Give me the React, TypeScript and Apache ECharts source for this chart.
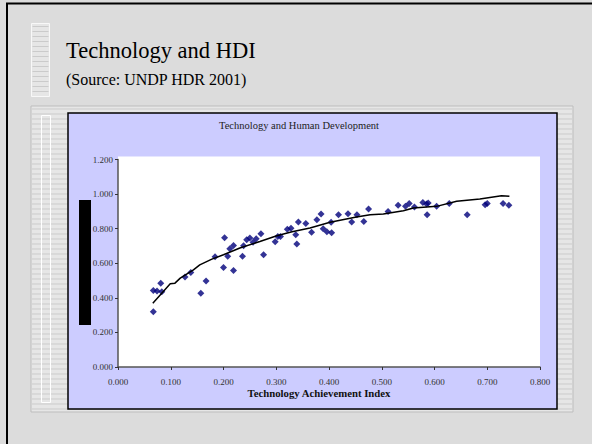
import React, { useEffect, useRef } from "react";
import * as echarts from "echarts";

// Technology Achievement Index (x) and Human Development Index (y)
const taiValues = [
  0.067, 0.067, 0.074, 0.083, 0.081, 0.127, 0.138, 0.157, 0.167, 0.184,
  0.200, 0.202, 0.208, 0.212, 0.219, 0.219, 0.236, 0.238, 0.244, 0.250,
  0.256, 0.262, 0.271, 0.276, 0.298, 0.303, 0.308, 0.321, 0.328, 0.337,
  0.339, 0.342, 0.356, 0.367, 0.377, 0.385, 0.389, 0.396, 0.405, 0.404,
  0.418, 0.436, 0.443, 0.453, 0.466, 0.475, 0.512, 0.531, 0.545, 0.552,
  0.562, 0.578, 0.585, 0.588, 0.586, 0.604, 0.628, 0.662, 0.696, 0.700,
  0.730, 0.741,
];
const hdiValues = [
  0.320, 0.442, 0.440, 0.435, 0.485, 0.520, 0.547, 0.427, 0.498, 0.637,
  0.576, 0.748, 0.640, 0.684, 0.702, 0.558, 0.640, 0.701, 0.736, 0.746,
  0.722, 0.741, 0.770, 0.649, 0.724, 0.755, 0.755, 0.796, 0.802, 0.765,
  0.711, 0.838, 0.830, 0.780, 0.851, 0.885, 0.800, 0.782, 0.777, 0.837,
  0.881, 0.886, 0.838, 0.881, 0.842, 0.914, 0.900, 0.935, 0.929, 0.945,
  0.926, 0.952, 0.942, 0.948, 0.881, 0.929, 0.945, 0.881, 0.939, 0.945,
  0.945, 0.935,
];

// Trend line as drawn in the picture
const trendX = [
  0.066, 0.080, 0.099, 0.108, 0.118, 0.143, 0.155, 0.178, 0.200, 0.231,
  0.269, 0.301, 0.330, 0.364, 0.402, 0.452, 0.478, 0.503, 0.541, 0.560,
  0.604, 0.642, 0.686, 0.727, 0.742,
];
const trendY = [
  0.369, 0.417, 0.481, 0.485, 0.514, 0.562, 0.591, 0.624, 0.649, 0.688,
  0.726, 0.759, 0.782, 0.804, 0.837, 0.867, 0.881, 0.885, 0.904, 0.920,
  0.929, 0.958, 0.971, 0.991, 0.987,
];

const xTicks = { min: 0, max: 0.8, interval: 0.1 };
const yTicks = { min: 0, max: 1.2, interval: 0.2 };

const chartTitle = "Technology and Human Development";
const slideTitle = "Technology and HDI";
const slideSubtitle = "(Source: UNDP HDR 2001)";
const xAxisTitle = "Technology Achievement Index";

const SERIF = "Liberation Serif";

function stripes(x: number, y: number, w: number, h: number, step: number, z: number) {
  const els: any[] = [];
  for (let yy = y + 3; yy < y + h - 1; yy += step) {
    els.push({
      type: "line",
      z,
      silent: true,
      shape: { x1: x + 1, y1: yy, x2: x + w - 1, y2: yy },
      style: { stroke: "#cbcbcb", lineWidth: 1 },
    });
  }
  return els;
}

export default function App() {
  const ref = useRef<HTMLDivElement>(null);

  useEffect(() => {
    if (!ref.current) return;
    const chart = echarts.init(ref.current, undefined, { renderer: "svg" });

    const scatterData = taiValues.map((v, i) => [v, hdiValues[i]]);
    const trendData = trendX.map((v, i) => [v, trendY[i]]);

    const graphic: any[] = [
      { type: "rect", z: -20, silent: true, shape: { x: 0, y: 0, width: 592, height: 444 }, style: { fill: "#dcdcdc" } },
      { type: "line", z: -19, silent: true, shape: { x1: 6, y1: 3.5, x2: 592, y2: 3.5 }, style: { stroke: "#000", lineWidth: 2 } },
      { type: "line", z: -19, silent: true, shape: { x1: 7, y1: 3, x2: 7, y2: 444 }, style: { stroke: "#000", lineWidth: 2 } },
      // title decoration panel
      { type: "rect", z: -18, silent: true, shape: { x: 31.5, y: 23.5, width: 18, height: 73 }, style: { fill: "#e6e6e6", stroke: "#f8f8f8", lineWidth: 1 } },
      ...stripes(31.5, 23.5, 18, 73, 5, -17),
      // big panel behind the chart
      { type: "rect", z: -18, silent: true, shape: { x: 31, y: 106, width: 542, height: 306 }, style: { fill: "#e6e6e6", stroke: "#bdbdbd", lineWidth: 1 } },
      ...stripes(31, 106, 542, 306, 5, -17),
      { type: "rect", z: -16, silent: true, shape: { x: 41.5, y: 115.5, width: 9, height: 287 }, style: { fill: "none", stroke: "#ffffff", lineWidth: 1 } },
      // chart area
      { type: "rect", z: -15, silent: true, shape: { x: 68, y: 113, width: 489, height: 296 }, style: { fill: "#ccccff", stroke: "#000", lineWidth: 1.5 } },
      // plot area
      { type: "rect", z: -14, silent: true, shape: { x: 118, y: 156.5, width: 422, height: 210.5 }, style: { fill: "#ffffff" } },
      // black block (y axis title area)
      { type: "rect", z: 5, silent: true, shape: { x: 79, y: 200, width: 12, height: 125 }, style: { fill: "#000" } },
      {
        type: "text", z: 5, silent: true, x: 66, y: 50.7,
        style: { text: slideTitle, fontFamily: SERIF, fontSize: 22.5, fill: "#000", textVerticalAlign: "middle" },
      },
      {
        type: "text", z: 5, silent: true, x: 66, y: 79.8,
        style: { text: slideSubtitle, fontFamily: SERIF, fontSize: 16, fill: "#000", textVerticalAlign: "middle" },
      },
      {
        type: "text", z: 5, silent: true, x: 299, y: 125,
        style: { text: chartTitle, fontFamily: SERIF, fontSize: 10.5, fill: "#222", textAlign: "center", textVerticalAlign: "middle" },
      },
      {
        type: "text", z: 5, silent: true, x: 319, y: 393,
        style: { text: xAxisTitle, fontFamily: SERIF, fontSize: 10.75, fontWeight: "bold", fill: "#111", textAlign: "center", textVerticalAlign: "middle" },
      },
    ];

    chart.setOption({
      animation: false,
      graphic,
      grid: { left: 118, top: 159.5, right: 52, bottom: 77, containLabel: false },
      xAxis: {
        type: "value",
        min: xTicks.min,
        max: xTicks.max,
        interval: xTicks.interval,
        splitLine: { show: false },
        axisLine: { lineStyle: { color: "#555", width: 1.5 } },
        axisTick: { show: true, length: 3, lineStyle: { color: "#333" } },
        axisLabel: {
          margin: 10,
          fontFamily: SERIF,
          fontSize: 9,
          color: "#333",
          formatter: (v: number) => v.toFixed(3),
        },
      },
      yAxis: {
        type: "value",
        min: yTicks.min,
        max: yTicks.max,
        interval: yTicks.interval,
        splitLine: { show: false },
        axisLine: { show: true, lineStyle: { color: "#555", width: 1.5 } },
        axisTick: { show: true, length: 3, lineStyle: { color: "#333" } },
        axisLabel: {
          margin: 5,
          fontFamily: SERIF,
          fontSize: 9,
          color: "#333",
          formatter: (v: number) => v.toFixed(3),
        },
      },
      series: [
        {
          type: "scatter",
          data: scatterData,
          symbol: "diamond",
          symbolSize: 7,
          itemStyle: { color: "#00007a" },
          z: 3,
        },
        {
          type: "line",
          data: trendData,
          showSymbol: false,
          symbol: "none",
          smooth: false,
          lineStyle: { color: "#000", width: 1.5 },
          z: 4,
        },
      ],
    });

    return () => chart.dispose();
  }, []);

  return (
    <div
      ref={ref}
      style={{ position: "absolute", left: 0, top: 0, width: 592, height: 444 }}
    />
  );
}
